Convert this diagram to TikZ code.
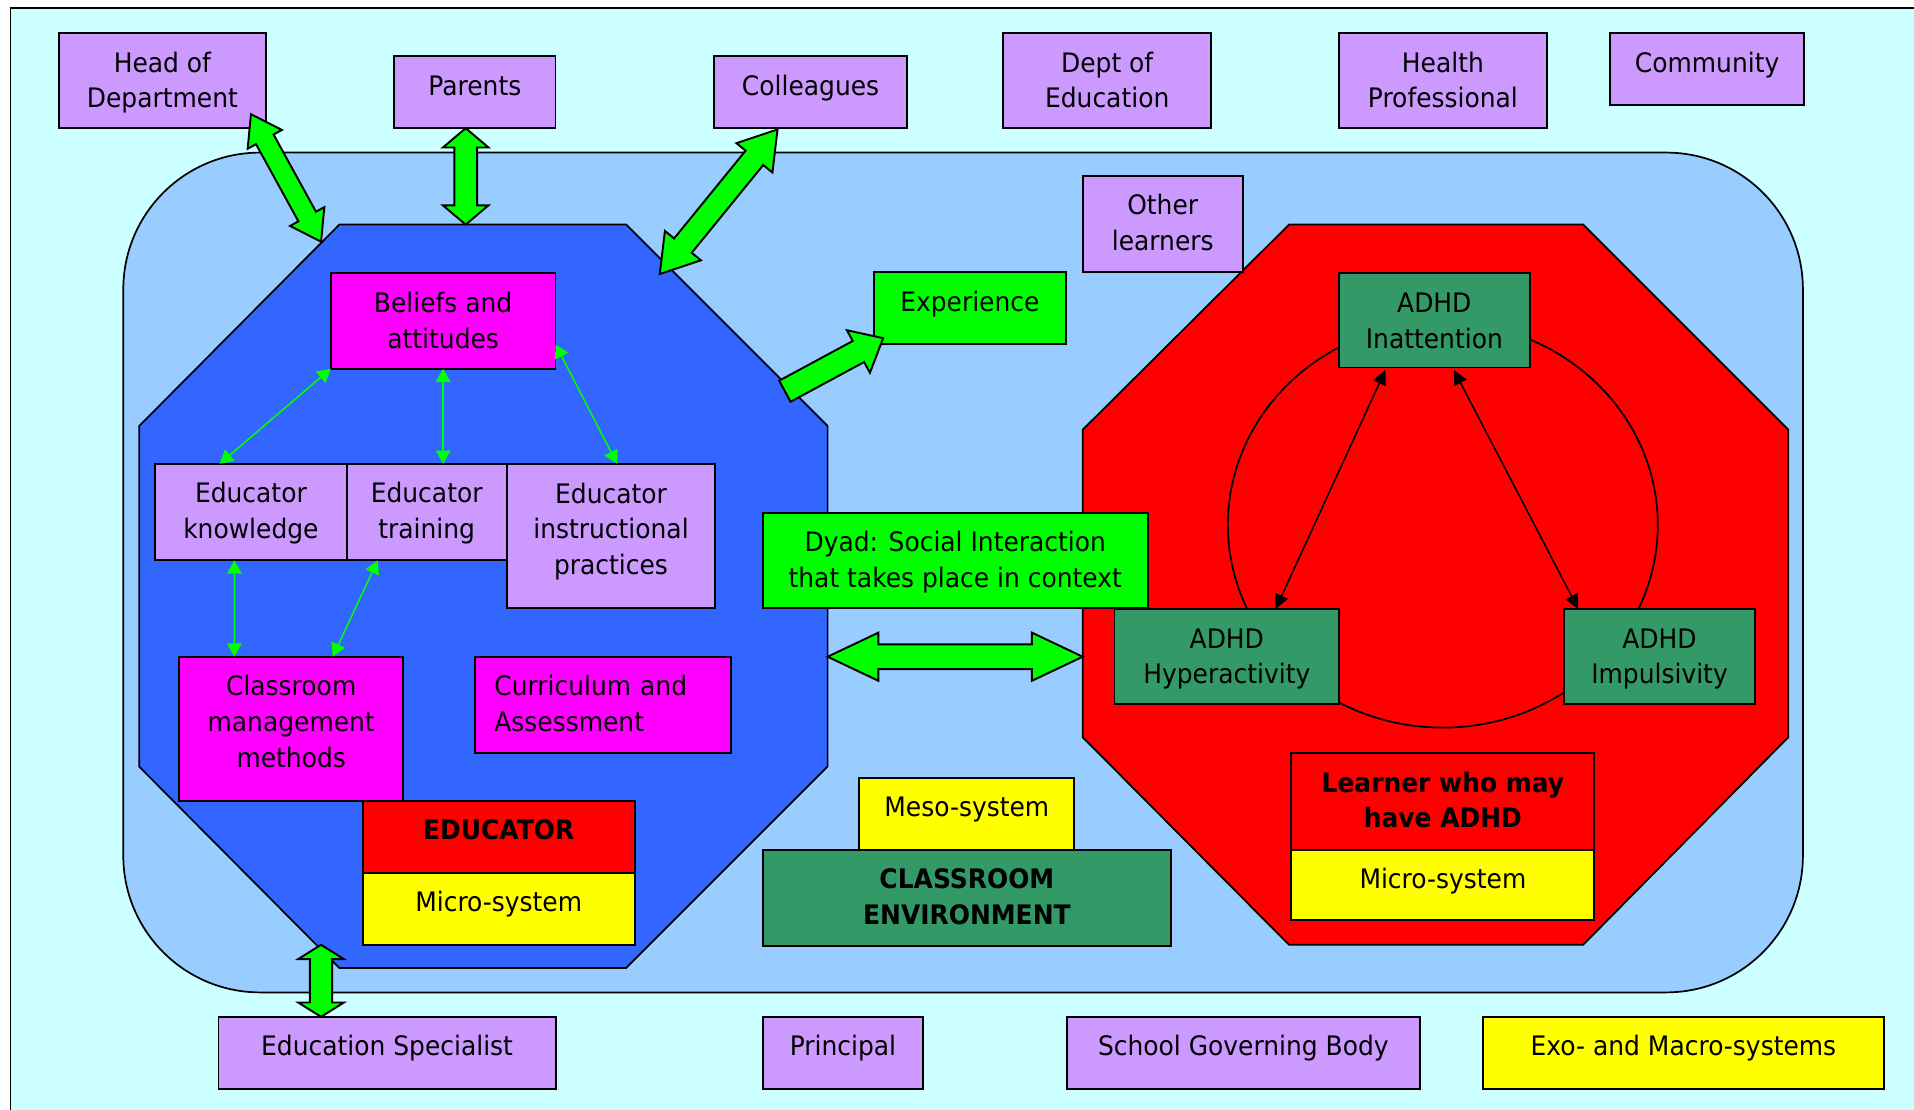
\documentclass[tikz,border=0pt]{standalone}
\usepackage{fontspec}
\setmainfont{DejaVu Sans}[FakeStretch=0.93]
\usetikzlibrary{arrows.meta,calc}

\definecolor{bgcyan}{HTML}{CCFFFF}
\definecolor{paleblue}{HTML}{99CCFF}
\definecolor{royal}{HTML}{3366FF}
\definecolor{lilac}{HTML}{CC99FF}
\definecolor{seagreen}{HTML}{339966}
\definecolor{fuchsia}{HTML}{FF00FF}
\definecolor{lime}{HTML}{00FF00}
\definecolor{lemon}{HTML}{FFFF00}
\definecolor{scarlet}{HTML}{FF0000}

% fat arrow with two heads: tip a, tip b, half shaft, half head, head length
\newcommand{\dblarrow}[5]{%
  \filldraw[blockarrow] (#1)
    -- ($(#1)!#5!(#2)!#4!90:(#2)$) -- ($(#1)!#5!(#2)!#3!90:(#2)$)
    -- ($(#2)!#5!(#1)!#3!-90:(#1)$) -- ($(#2)!#5!(#1)!#4!-90:(#1)$)
    -- (#2)
    -- ($(#2)!#5!(#1)!#4!90:(#1)$) -- ($(#2)!#5!(#1)!#3!90:(#1)$)
    -- ($(#1)!#5!(#2)!#3!-90:(#2)$) -- ($(#1)!#5!(#2)!#4!-90:(#2)$)
    -- cycle;}
% fat arrow with one head: tail, tip, half shaft, half head, head length
\newcommand{\sglarrow}[5]{%
  \filldraw[blockarrow] (#2)
    -- ($(#2)!#5!(#1)!#4!90:(#1)$) -- ($(#2)!#5!(#1)!#3!90:(#1)$)
    -- ($(#1)!#3!-90:(#2)$) -- ($(#1)!#3!90:(#2)$)
    -- ($(#2)!#5!(#1)!#3!-90:(#1)$) -- ($(#2)!#5!(#1)!#4!-90:(#1)$)
    -- cycle;}

\begin{document}
\begin{tikzpicture}[
	x=0.01cm, y=-0.01cm,
	font=\fontsize{6.25pt}{8.3pt}\selectfont,
	box/.style={draw=black, line width=0.45pt, anchor=north west, inner sep=0pt, outer sep=0pt, text height=3.2mm, align=center},
	twolines/.style={text height=6.12mm},
	threelines/.style={text height=9.04mm},
	lilacnode/.style={box, fill=lilac},
	magentanode/.style={box, fill=fuchsia},
	greennode/.style={box, fill=lime},
	yellownode/.style={box, fill=lemon},
	rednode/.style={box, fill=scarlet},
	seanode/.style={box, fill=seagreen},
	blockarrow/.style={draw=black, fill=lime, line width=0.45pt},
	greenarrow/.style={draw=lime, line width=0.35pt, >={Triangle[length=3.1pt,width=3.4pt]}, <->},
	blackarrow/.style={draw=black, line width=0.35pt, >={Triangle[length=3.4pt,width=3.2pt]}, <->},
]
\useasboundingbox (0,0) rectangle (1568,909);
\fill[white] (0,0) rectangle (1568,909);
\filldraw[fill=bgcyan, line width=0.4pt] (8.5,6.5) rectangle (1580,920);
\filldraw[fill=paleblue, line width=0.4pt, rounded corners=1.12cm] (101,125) rectangle (1477,813);

% the two micro-systems
\filldraw[fill=royal, line width=0.4pt] (278,184) -- (513,184) -- (678,349) -- (678,628) -- (513,793) -- (278,793) -- (114,628) -- (114,349) -- cycle;
\filldraw[fill=scarlet, line width=0.4pt] (1056,184) -- (1297,184) -- (1465,352) -- (1465,604) -- (1297,774) -- (1056,774) -- (887,604) -- (887,352) -- cycle;
\draw[line width=0.4pt] (1182,430) ellipse [x radius=1.76cm, y radius=1.66cm];

% outer ring
\node[lilacnode, twolines, minimum width=1.70cm, text depth=1.68mm] (hod) at (48,27) {Head of\\Department};
\node[lilacnode, minimum width=1.32cm, text depth=2.7mm] (par) at (323,46) {Parents};
\node[lilacnode, minimum width=1.58cm, text depth=2.7mm] (col) at (585,46) {Colleagues};
\node[lilacnode, twolines, minimum width=1.70cm, text depth=1.68mm] (doe) at (822,27) {Dept of\\Education};
\node[lilacnode, twolines, minimum width=1.70cm, text depth=1.68mm] (hp) at (1097,27) {Health\\Professional};
\node[lilacnode, minimum width=1.59cm, text depth=2.7mm] (com) at (1319,27) {Community};
\node[lilacnode, minimum width=2.76cm, text depth=2.7mm] (eds) at (179,833) {Education Specialist};
\node[lilacnode, minimum width=1.31cm, text depth=2.7mm] (pri) at (625,833) {Principal};
\node[lilacnode, minimum width=2.89cm, text depth=2.7mm] (sgb) at (874,833) {School Governing Body};
\node[yellownode, minimum width=3.28cm, text depth=2.7mm] (exo) at (1215,833) {Exo- and Macro-systems};

% classroom
\node[lilacnode, twolines, minimum width=1.31cm, text depth=1.78mm] (oth) at (887,144) {Other\\learners};
\node[greennode, minimum width=1.57cm, text depth=2.7mm] (exp) at (716,223) {Experience};
\node[greennode, twolines, minimum width=3.15cm, text depth=1.68mm] (dyad) at (625,420) {Dyad: Social Interaction\\that takes place in context};
\node[yellownode, minimum width=1.76cm, text depth=2.7mm] (meso) at (704,637) {Meso-system};
\node[seanode, twolines, minimum width=3.34cm, text depth=1.78mm] (env) at (625,696) {\textbf{CLASSROOM}\\\textbf{ENVIRONMENT}};

% educator
\node[magentanode, twolines, minimum width=1.84cm, text depth=1.68mm] (bel) at (271,224) {Beliefs and\\attitudes};
\node[lilacnode, twolines, minimum width=1.57cm, text depth=1.78mm] (know) at (127,380) {Educator\\knowledge};
\node[lilacnode, twolines, minimum width=1.31cm, text depth=1.78mm] (tra) at (284,380) {Educator\\training};
\node[lilacnode, threelines, minimum width=1.71cm, text depth=2.76mm] (ins) at (415,380) {Educator\\instructional\\practices};
\node[magentanode, threelines, minimum width=1.83cm, text depth=2.76mm] (cls) at (147,538) {Classroom\\management\\methods};
\node[magentanode, text width=1.78cm, inner xsep=1.6mm, align=left, text depth=4.7mm] (cur) at (389,538) {Curriculum and\\Assessment};
\node[rednode, minimum width=2.23cm, text depth=2.7mm] (edu) at (297,656) {\textbf{EDUCATOR}};
\node[yellownode, minimum width=2.23cm, text depth=2.7mm] (emic) at (297,715) {Micro-system};

% learner
\node[seanode, twolines, minimum width=1.56cm, text depth=1.58mm] (ina) at (1097,224) {ADHD\\Inattention};
\node[seanode, twolines, minimum width=1.84cm, text depth=1.68mm] (hyp) at (913,499) {ADHD\\Hyperactivity};
\node[seanode, twolines, minimum width=1.57cm, text depth=1.68mm] (imp) at (1281,499) {ADHD\\Impulsivity};
\node[rednode, twolines, minimum width=2.48cm, text depth=1.78mm] (lrn) at (1058,617) {\textbf{Learner who may}\\\textbf{have ADHD}};
\node[yellownode, minimum width=2.48cm, text depth=2.6mm] (lmic) at (1058,696) {Micro-system};

% thin arrows
\draw[greenarrow] (bel.south west) -- ($(know.north west)+(53,0)$);
\draw[greenarrow] (bel.south) -- (bel.south |- tra.north);
\draw[greenarrow] ($(bel.south east)+(0,-20)$) -- ($(ins.north)+(5,0)$);
\draw[greenarrow] ($(know.south)+(-13.5,0)$) -- ($(cls.north west)+(45,0)$);
\draw[greenarrow] ($(tra.south west)+(25.5,0)$) -- ($(cls.north)+(34,0)$);
\draw[blackarrow] ($(ina.south west)+(38,2)$) -- ($(hyp.north west)+(132,0)$);
\draw[blackarrow] ($(ina.south west)+(94,2)$) -- ($(imp.north west)+(12,0)$);

% fat arrows
\coordinate (hodtip) at ($(hod.south east)+(-12.5,-11.5)$);
\coordinate (eduhod) at (263,198);
\dblarrow{hodtip}{eduhod}{0.082cm}{0.16cm}{0.235cm}
\coordinate (partip) at ($(par.south)+(-7.5,0)$);
\coordinate (edupar) at (381.5,184);
\dblarrow{partip}{edupar}{0.093cm}{0.187cm}{0.158cm}
\coordinate (coltip) at ($(col.south west)+(52,1)$);
\coordinate (educol) at (540.5,224.5);
\dblarrow{coltip}{educol}{0.093cm}{0.19cm}{0.30cm}
\coordinate (eduexp) at (643,320.5);
\coordinate (exptip) at ($(exp.south west)+(7.5,-5)$);
\sglarrow{eduexp}{exptip}{0.098cm}{0.198cm}{0.23cm}
\coordinate (edudyad) at (678,538);
\coordinate (lrndyad) at (887,538);
\dblarrow{edudyad}{lrndyad}{0.101cm}{0.197cm}{0.416cm}
\coordinate (eduspec) at (263,774);
\coordinate (edstip) at ($(eds.north west)+(84,0)$);
\dblarrow{eduspec}{edstip}{0.091cm}{0.187cm}{0.117cm}
\end{tikzpicture}
\end{document}
